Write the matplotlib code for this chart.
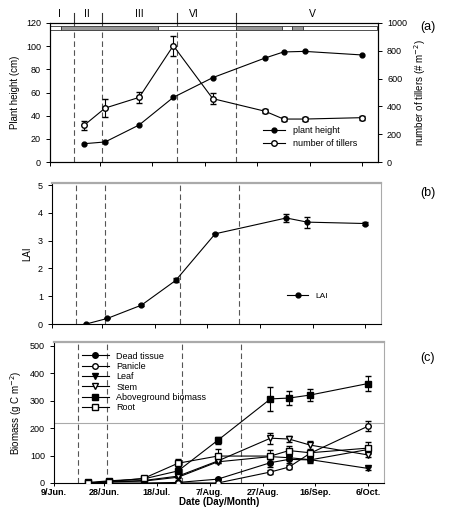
import numpy as np
import matplotlib.pyplot as plt
import matplotlib.transforms as mtransforms
from matplotlib.lines import Line2D

plt.rcParams['font.family'] = ['Liberation Sans', 'DejaVu Sans']
plt.rcParams['font.size'] = 6.5

# sampling days, counted from 9 June
days = [13, 21, 34, 47, 62, 82, 89, 97, 119]
tick_days = [0, 19, 39, 59, 79, 99, 119]
tick_labels = ['9/Jun.', '28/Jun.', '18/Jul.', '7/Aug.', '27/Aug.', '16/Sep.', '6/Oct.']

# growth stages
phase_bounds = [9, 20, 48.5, 71]
phase_names = ['I', 'II', 'III', 'VI', 'V']
phase_mid = [3.5, 14, 34, 55, 100]

# bar on top of panel (a)
bar_start = [0, 4.2, 41.3, 70.9, 88.6, 92.3, 96.5]
bar_end = [4.2, 41.3, 70.9, 88.6, 92.3, 96.5, 124.6]
bar_shaded = [0, 1, 0, 1, 0, 1, 0]

# (a)
height = [15.8, 17.3, 32, 55.8, 72.8, 89.8, 95, 95.5, 92.4]
tillers = [264, 388, 465, 837, 456, 365, 309, 309, 319]
tillers_err = [32, 62, 38, 72, 38, 15, 14, 12, 15]

# (b)
lai_days = [13, 21, 34, 47, 62, 89, 97, 119]
lai = [0.0, 0.2, 0.68, 1.57, 3.25, 3.82, 3.67, 3.62]
lai_err = [0, 0, 0.03, 0.07, 0.02, 0.13, 0.2, 0.06]

# (c)
dead = [0, 0, 0, 2, 14, 74, 86, 84, 122]
dead_err = [0, 0, 0, 1, 3, 15, 14, 10, 10]
panicle = [np.nan, np.nan, np.nan, 0, 0, 40, 58, 108, 207]
panicle_err = [0, 0, 0, 0, 0, 6, 8, 10, 18]
leaf = [0, 4, 7, 21, 77, 96, 92, 85, 53]
leaf_err = [0, 0, 1, 2, 4, 8, 8, 8, 4]
stem = [0, 5, 9, 25, 80, 163, 160, 138, 102]
stem_err = [0, 0, 1, 3, 5, 20, 12, 14, 8]
above = [2, 8, 15, 44, 155, 306, 309, 320, 362]
above_err = [0, 1, 2, 5, 12, 45, 27, 23, 27]
root = [0, 5, 17, 72, 98, 98, 118, 110, 127]
root_err = [0, 1, 3, 15, 25, 22, 18, 8, 22]

fig = plt.figure(figsize=(4.5, 5.07), dpi=100)
ax_a = fig.add_axes([50/450, 1-162/507, 328/450, 139/507])
ax_b = fig.add_axes([52/450, 1-324/507, 329/450, 141/507])
ax_c = fig.add_axes([54/450, 1-483/507, 330/450, 141/507])

for ax in (ax_a, ax_b, ax_c):
    ax.set_xlim(0, 125)
    ax.set_xticks(tick_days)
    ax.tick_params(length=3, width=0.7, labelsize=6.5)
    for x in phase_bounds:
        ax.axvline(x, color='#555555', ls=(0, (5, 3)), lw=0.8, zorder=1)

# ---- panel (a)
ax_a.set_ylim(0, 120)
ax_a.set_yticks(range(0, 121, 20))
ax_a.set_xticklabels([])
for s, e, sh in zip(bar_start, bar_end, bar_shaded):
    ax_a.barh(115.7, e - s, left=s, height=4, color='#999999' if sh else 'white',
              edgecolor='#333333', lw=0.6, zorder=2)
ax_a.plot(days, height, color='black', lw=0.8, marker='o', ms=3.5, zorder=3)
ax_a.set_ylabel('Plant height (cm)', fontsize=7)

ax_a2 = ax_a.twinx()
ax_a2.set_ylim(0, 1000)
ax_a2.set_yticks(range(0, 1001, 200))
ax_a2.tick_params(length=3, width=0.7, labelsize=6.5)
ax_a2.errorbar(days, tillers, yerr=tillers_err, color='black', lw=0.8, marker='o', ms=4,
               mfc='white', mec='black', capsize=2.5, elinewidth=0.8, zorder=3)
ax_a2.set_ylabel('number of tillers (# m$^{-2}$)', fontsize=7)

trans = mtransforms.blended_transform_factory(ax_a.transData, ax_a.transAxes)
for x in phase_bounds:
    ax_a.plot([x, x], [1, 1.075], transform=trans, color='#333333', lw=0.8, clip_on=False)
for x, name in zip(phase_mid, phase_names):
    ax_a.text(x, 1.065, name, transform=trans, ha='center', va='center', fontsize=7.5)

handles = [Line2D([], [], color='black', lw=0.8, marker='o', ms=3.5),
           Line2D([], [], color='black', lw=0.8, marker='o', ms=4, mfc='white')]
ax_a.legend(handles, ['plant height', 'number of tillers'], loc='lower right',
            bbox_to_anchor=(0.96, 0.04), frameon=False, fontsize=6.5, handlelength=2.5)

# ---- panel (b)
ax_b.set_ylim(0, 5.08)
ax_b.set_yticks(range(0, 6))
ax_b.set_xticklabels([])
ax_b.errorbar(lai_days, lai, yerr=lai_err, color='black', lw=0.8, marker='o', ms=3.5,
              capsize=2.5, elinewidth=0.8, label='LAI', zorder=3)
ax_b.set_ylabel('LAI', fontsize=7)
ax_b.legend([Line2D([], [], color='black', lw=0.8, marker='o', ms=3.5)], ['LAI'],
            loc='lower right', bbox_to_anchor=(0.86, 0.12), frameon=False, fontsize=6,
            handlelength=2.5)
for sp in ('top', 'right'):
    ax_b.spines[sp].set_color('#aaaaaa')
ax_b.spines['top'].set_linewidth(1.6)

# ---- panel (c)
ax_c.set_ylim(0, 513)
ax_c.set_yticks(range(0, 501, 100))
ax_c.set_xticklabels(tick_labels, fontweight='bold', fontsize=6.5)
ax_c.tick_params(axis='x', pad=1, length=2.5)
ax_c.axhline(218, color='#aaaaaa', lw=0.8, zorder=1)
series = [
    ('Dead tissue', dead, dead_err, 'o', 'black'),
    ('Panicle', panicle, panicle_err, 'o', 'white'),
    ('Leaf', leaf, leaf_err, 'v', 'black'),
    ('Stem', stem, stem_err, 'v', 'white'),
    ('Aboveground biomass', above, above_err, 's', 'black'),
    ('Root', root, root_err, 's', 'white'),
]
handles = []
for name, vals, err, mk, fc in series:
    ax_c.errorbar(days, vals, yerr=err, color='black', lw=0.8, marker=mk, ms=4,
                  mfc=fc, mec='black', capsize=2.5, elinewidth=0.8, zorder=3)
    handles.append(Line2D([], [], color='black', lw=0.8, marker=mk, ms=4, mfc=fc))
ax_c.legend(handles, [s[0] for s in series], loc='upper left', bbox_to_anchor=(0.06, 0.99),
            frameon=False, fontsize=6.5, handlelength=3, labelspacing=0.15)
ax_c.set_ylabel('Biomass (g C m$^{-2}$)', fontsize=7)
ax_c.set_xlabel('Date (Day/Month)', fontsize=7, fontweight='bold', labelpad=0)
for sp in ('top', 'right'):
    ax_c.spines[sp].set_color('#aaaaaa')
ax_c.spines['top'].set_linewidth(1.6)

fig.text(0.951, 1 - 27/507, '(a)', fontsize=9, ha='center', va='center')
fig.text(0.951, 1 - 193/507, '(b)', fontsize=9, ha='center', va='center')
fig.text(0.951, 1 - 358/507, '(c)', fontsize=9, ha='center', va='center')

fig.savefig('out.png', dpi=100)
